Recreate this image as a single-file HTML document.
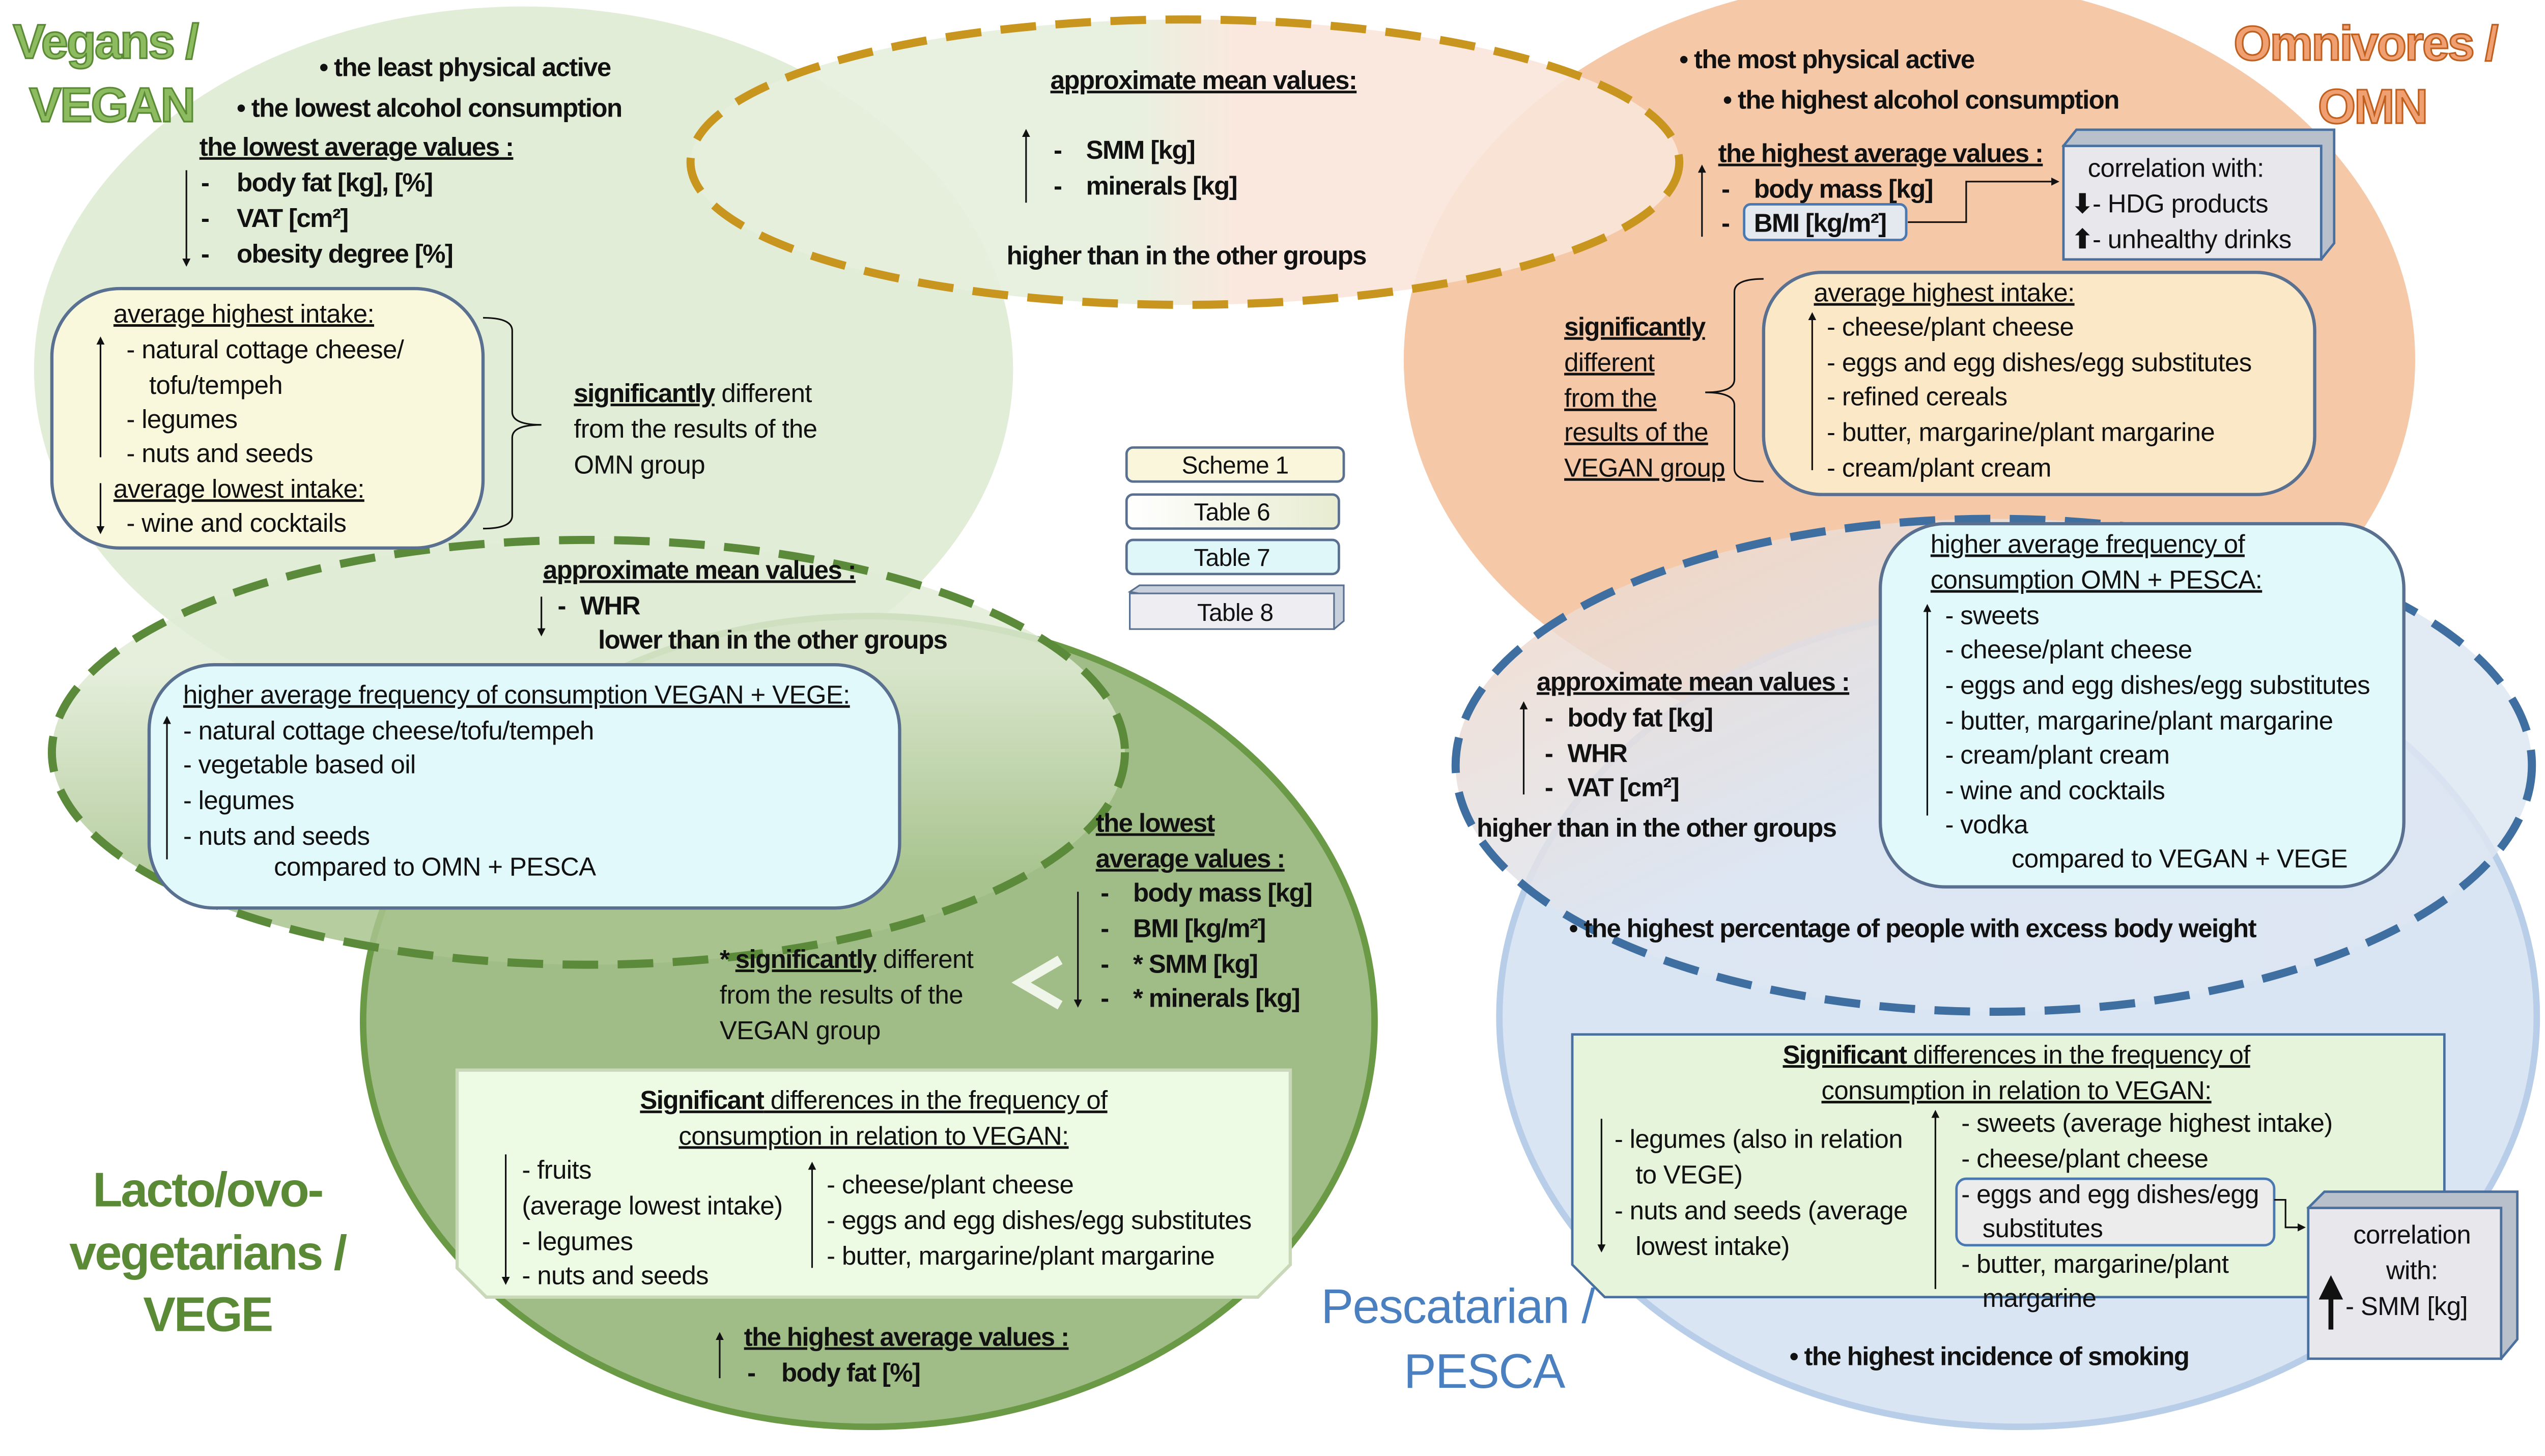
<!DOCTYPE html>
<html><head><meta charset="utf-8"><style>
html,body{margin:0;padding:0;background:#fff;width:5073px;height:2861px;overflow:hidden}
svg{display:block}
text{font-family:"Liberation Sans",sans-serif;font-size:16px;letter-spacing:-0.2px;fill:#111}
.b{font-weight:bold;letter-spacing:-0.5px}
.u{text-decoration:underline}
.t{font-weight:bold;font-size:30px;letter-spacing:-1px}
</style></head><body>
<svg width="5073" height="2861" viewBox="0 0 1593 898" preserveAspectRatio="none" xmlns="http://www.w3.org/2000/svg">
<defs>
<marker id="ah" viewBox="0 0 10 10" refX="5" refY="5" markerWidth="5" markerHeight="6" orient="auto-start-reverse"><path d="M0,0 L10,5 L0,10 z" fill="#111"/></marker>
<linearGradient id="gold" x1="0" x2="1"><stop offset="0.45" stop-color="#e6efdc"/><stop offset="0.55" stop-color="#f9e6da"/></linearGradient>
<linearGradient id="bl" x1="0" x2="1" y1="0" y2="1"><stop offset="0" stop-color="#f4d6c2"/><stop offset="0.5" stop-color="#dde6f2"/></linearGradient>
<linearGradient id="gd" x1="0" x2="0" y1="0" y2="1"><stop offset="0.3" stop-color="#e1ecd6"/><stop offset="0.8" stop-color="#a9c48f"/></linearGradient>
<linearGradient id="t6" x1="0" x2="1"><stop offset="0" stop-color="#fff"/><stop offset="1" stop-color="#e8ecd0"/></linearGradient>
</defs>
<ellipse cx="323" cy="228" rx="302" ry="224" fill="#e2edd7"/>
<ellipse cx="1178" cy="222" rx="312" ry="236" fill="#f5c8a8"/>
<ellipse cx="536" cy="630" rx="312" ry="250" fill="#a1bd87" stroke="#6a9a45" stroke-width="4"/>
<ellipse cx="1245" cy="627" rx="320" ry="253" fill="#dae5f3" stroke="#b8cde8" stroke-width="4"/>
<ellipse cx="731" cy="100" rx="305" ry="88" fill="url(#gold)" fill-opacity="0.9" stroke="#c8961e" stroke-width="5" stroke-dasharray="22,12"/>
<ellipse cx="363" cy="464" rx="331" ry="131" fill="url(#gd)" fill-opacity="0.85" stroke="#5a8a3a" stroke-width="5" stroke-dasharray="22,12"/>
<ellipse cx="1230" cy="472" rx="332" ry="152" fill="url(#bl)" fill-opacity="0.85" stroke="#3f6fa0" stroke-width="5" stroke-dasharray="22,12"/>

<text x="8" y="36" class="t" style="fill:#8dbb60;stroke:#5a8a35;stroke-width:1">Vegans /</text>
<text x="18" y="75" class="t" style="fill:#8dbb60;stroke:#5a8a35;stroke-width:1">VEGAN</text>
<text x="1378" y="37" class="t" style="fill:#f0a070;stroke:#c06020;stroke-width:1">Omnivores /</text>
<text x="1430" y="76" class="t" style="fill:#f0a070;stroke:#c06020;stroke-width:1">OMN</text>
<text x="128" y="744" class="t" text-anchor="middle" style="fill:#5a8a35">Lacto/ovo-</text>
<text x="128" y="783" class="t" text-anchor="middle" style="fill:#5a8a35">vegetarians /</text>
<text x="128" y="821" class="t" text-anchor="middle" style="fill:#5a8a35">VEGE</text>
<text x="815" y="816" style="font-size:30px;fill:#4a80c0;letter-spacing:-0.5px">Pescatarian /</text>
<text x="866" y="856" style="font-size:30px;fill:#4a80c0;letter-spacing:-0.5px">PESCA</text>

<text x="197" y="47" class="b">• the least physical active</text>
<text x="146" y="72" class="b">• the lowest alcohol consumption</text>
<text x="123" y="96" class="b u">the lowest average values :</text>
<line x1="115" y1="105" x2="115" y2="162" stroke="#111" marker-end="url(#ah)"/>
<text x="124" y="118" class="b">-</text><text x="146" y="118" class="b">body fat [kg], [%]</text>
<text x="124" y="140" class="b">-</text><text x="146" y="140" class="b">VAT [cm²]</text>
<text x="124" y="162" class="b">-</text><text x="146" y="162" class="b">obesity degree [%]</text>

<rect x="32" y="178" width="266" height="160" rx="42" fill="#f9f8dc" stroke="#5a7090" stroke-width="2"/>
<text x="70" y="199" class="u">average highest intake:</text>
<line x1="62" y1="282" x2="62" y2="210" stroke="#111" marker-end="url(#ah)"/>
<text x="78" y="221">-  natural cottage cheese/</text>
<text x="92" y="243">tofu/tempeh</text>
<text x="78" y="264">-  legumes</text>
<text x="78" y="285">-  nuts and seeds</text>
<text x="70" y="307" class="u">average lowest intake:</text>
<line x1="62" y1="298" x2="62" y2="327" stroke="#111" marker-end="url(#ah)"/>
<text x="78" y="328">-  wine and cocktails</text>
<path d="M298,196 Q316,196 316,204 L316,254 Q316,262 334,262 Q316,262 316,270 L316,318 Q316,326 298,326" fill="none" stroke="#111" stroke-width="1"/>
<text x="354" y="248"><tspan class="b u">significantly</tspan> different</text>
<text x="354" y="270">from the results of the</text>
<text x="354" y="292">OMN group</text>

<text x="648" y="55" class="b u">approximate mean values:</text>
<line x1="633" y1="125" x2="633" y2="82" stroke="#111" marker-end="url(#ah)"/>
<text x="650" y="98" class="b">-</text><text x="670" y="98" class="b">SMM [kg]</text>
<text x="650" y="120" class="b">-</text><text x="670" y="120" class="b">minerals [kg]</text>
<text x="621" y="163" class="b">higher than in the other groups</text>

<text x="1036" y="42" class="b">• the most physical active</text>
<text x="1063" y="67" class="b">• the highest alcohol consumption</text>
<text x="1060" y="100" class="b u">the highest average values :</text>
<line x1="1050" y1="146" x2="1050" y2="104" stroke="#111" marker-end="url(#ah)"/>
<text x="1062" y="122" class="b">-</text><text x="1082" y="122" class="b">body mass [kg]</text>
<text x="1062" y="143" class="b">-</text>
<rect x="1076" y="126" width="100" height="22" rx="4" fill="#e4e8ef" stroke="#4a78b0" stroke-width="1.5"/>
<text x="1082" y="143" class="b">BMI [kg/m²]</text>
<path d="M1177,137 L1213,137 L1213,112 L1268,112" fill="none" stroke="#111" marker-end="url(#ah)"/>
<path d="M1273,90 L1281,80 L1440,80 L1440,150 L1432,160 Z" fill="#b8c0cc" stroke="#4a70a0" stroke-width="1.5"/>
<rect x="1273" y="90" width="159" height="70" fill="#e8e8ec" stroke="#4a70a0" stroke-width="1.5"/>
<text x="1288" y="109">correlation with:</text>
<text x="1278" y="131"><tspan class="b">⬇</tspan>- HDG products</text>
<text x="1278" y="153"><tspan class="b">⬆</tspan>- unhealthy drinks</text>

<text x="965" y="207" class="b u">significantly</text>
<text x="965" y="229" class="u">different</text>
<text x="965" y="251" class="u">from the</text>
<text x="965" y="272" class="u">results of the</text>
<text x="965" y="294" class="u">VEGAN group</text>
<path d="M1088,172 Q1070,172 1070,180 L1070,234 Q1070,242 1052,242 Q1070,242 1070,250 L1070,289 Q1070,297 1088,297" fill="none" stroke="#111"/>
<rect x="1088" y="168" width="340" height="137" rx="36" fill="#fbe8c6" stroke="#5a7090" stroke-width="2"/>
<text x="1119" y="186" class="u">average highest intake:</text>
<line x1="1118" y1="290" x2="1118" y2="195" stroke="#111" marker-end="url(#ah)"/>
<text x="1127" y="207">-  cheese/plant cheese</text>
<text x="1127" y="229">-  eggs and egg dishes/egg substitutes</text>
<text x="1127" y="250">-  refined cereals</text>
<text x="1127" y="272">-  butter, margarine/plant margarine</text>
<text x="1127" y="294">-  cream/plant cream</text>

<rect x="695" y="276" width="134" height="21" rx="4" fill="#faf6dc" stroke="#5a7090" stroke-width="1.5"/>
<text x="762" y="292" text-anchor="middle" style="font-size:15px">Scheme 1</text>
<rect x="695" y="305" width="131" height="21" rx="4" fill="url(#t6)" stroke="#5a7090" stroke-width="1.5"/>
<text x="760" y="321" text-anchor="middle" style="font-size:15px">Table 6</text>
<rect x="695" y="333" width="131" height="21" rx="4" fill="#e0f7fa" stroke="#5a7090" stroke-width="1.5"/>
<text x="760" y="349" text-anchor="middle" style="font-size:15px">Table 7</text>
<path d="M697,365 L703,361 L829,361 L829,383 L823,388 Z" fill="#c8d0dc" stroke="#5a7090" stroke-width="1"/>
<rect x="697" y="366" width="126" height="22" fill="#eeeef2" stroke="#5a7090" stroke-width="1"/>
<text x="762" y="383" text-anchor="middle" style="font-size:15px">Table 8</text>

<text x="335" y="357" class="b u">approximate mean values :</text>
<line x1="334" y1="368" x2="334" y2="390" stroke="#111" marker-end="url(#ah)"/>
<text x="344" y="379" class="b">-</text><text x="358" y="379" class="b">WHR</text>
<text x="369" y="400" class="b">lower than in the other groups</text>
<rect x="92" y="410" width="463" height="150" rx="40" fill="#e2f9fb" stroke="#5a7090" stroke-width="2"/>
<text x="113" y="434" class="u">higher average frequency of consumption VEGAN + VEGE:</text>
<line x1="103" y1="530" x2="103" y2="444" stroke="#111" marker-end="url(#ah)"/>
<text x="113" y="456">-  natural cottage cheese/tofu/tempeh</text>
<text x="113" y="477">-  vegetable based oil</text>
<text x="113" y="499">-  legumes</text>
<text x="113" y="521">-  nuts and seeds</text>
<text x="169" y="540">compared to OMN + PESCA</text>

<text x="676" y="513" class="b u">the lowest</text>
<text x="676" y="535" class="b u">average values :</text>
<line x1="665" y1="550" x2="665" y2="619" stroke="#111" marker-end="url(#ah)"/>
<text x="679" y="556" class="b">-</text><text x="699" y="556" class="b">body mass [kg]</text>
<text x="679" y="578" class="b">-</text><text x="699" y="578" class="b">BMI [kg/m²]</text>
<text x="679" y="600" class="b">-</text><text x="699" y="600" class="b">* SMM [kg]</text>
<text x="679" y="621" class="b">-</text><text x="699" y="621" class="b">* minerals [kg]</text>
<path d="M654,592 L630,606 L654,620" fill="none" stroke="#f0f5ea" stroke-width="6"/>
<text x="444" y="597"><tspan class="b">* </tspan><tspan class="b u">significantly</tspan> different</text>
<text x="444" y="619">from the results of the</text>
<text x="444" y="641">VEGAN group</text>

<path d="M282,660 L796,660 L796,780 L776,800 L300,800 L282,782 Z" fill="#eefbe4" stroke="#c8d8b8" stroke-width="2"/>
<text x="539" y="684" text-anchor="middle"><tspan class="b u">Significant</tspan><tspan class="u"> differences in the frequency of</tspan></text>
<text x="539" y="706" text-anchor="middle" class="u">consumption in relation to VEGAN:</text>
<line x1="312" y1="712" x2="312" y2="790" stroke="#111" marker-end="url(#ah)"/>
<text x="322" y="727">-  fruits</text>
<text x="322" y="749">(average lowest intake)</text>
<text x="322" y="771">-  legumes</text>
<text x="322" y="792">-  nuts and seeds</text>
<line x1="501" y1="782" x2="501" y2="719" stroke="#111" marker-end="url(#ah)"/>
<text x="510" y="736">-  cheese/plant cheese</text>
<text x="510" y="758">-  eggs and egg dishes/egg substitutes</text>
<text x="510" y="780">-  butter, margarine/plant margarine</text>
<text x="459" y="830" class="b u">the highest average values :</text>
<line x1="444" y1="850" x2="444" y2="824" stroke="#111" marker-end="url(#ah)"/>
<text x="461" y="852" class="b">-</text><text x="482" y="852" class="b">body fat [%]</text>

<text x="948" y="426" class="b u">approximate mean values :</text>
<line x1="940" y1="490" x2="940" y2="435" stroke="#111" marker-end="url(#ah)"/>
<text x="953" y="448" class="b">-</text><text x="967" y="448" class="b">body fat [kg]</text>
<text x="953" y="470" class="b">-</text><text x="967" y="470" class="b">WHR</text>
<text x="953" y="491" class="b">-</text><text x="967" y="491" class="b">VAT [cm²]</text>
<text x="911" y="516" class="b">higher than in the other groups</text>
<rect x="1160" y="323" width="323" height="224" rx="40" fill="#e2f9fb" stroke="#5a7090" stroke-width="2"/>
<text x="1191" y="341" class="u">higher average frequency of</text>
<text x="1191" y="363" class="u">consumption OMN + PESCA:</text>
<line x1="1189" y1="503" x2="1189" y2="375" stroke="#111" marker-end="url(#ah)"/>
<text x="1200" y="385">-  sweets</text>
<text x="1200" y="406">-  cheese/plant cheese</text>
<text x="1200" y="428">-  eggs and egg dishes/egg substitutes</text>
<text x="1200" y="450">-  butter, margarine/plant margarine</text>
<text x="1200" y="471">-  cream/plant cream</text>
<text x="1200" y="493">-  wine and cocktails</text>
<text x="1200" y="514">-  vodka</text>
<text x="1241" y="535">compared to VEGAN + VEGE</text>
<text x="968" y="578" class="b">• the highest percentage of people with excess body weight</text>

<path d="M970,638 L1508,638 L1508,780 L1490,800 L990,800 L970,780 Z" fill="#e6f4dc" stroke="#4a70a0" stroke-width="1.5"/>
<text x="1244" y="656" text-anchor="middle"><tspan class="b u">Significant</tspan><tspan class="u"> differences in the frequency of</tspan></text>
<text x="1244" y="678" text-anchor="middle" class="u">consumption in relation to VEGAN:</text>
<line x1="988" y1="690" x2="988" y2="770" stroke="#111" marker-end="url(#ah)"/>
<text x="996" y="708">-  legumes (also in relation</text>
<text x="1009" y="730">to VEGE)</text>
<text x="996" y="752">-  nuts and seeds (average</text>
<text x="1009" y="774">lowest intake)</text>
<line x1="1194" y1="795" x2="1194" y2="687" stroke="#111" marker-end="url(#ah)"/>
<text x="1210" y="698">-  sweets (average highest intake)</text>
<text x="1210" y="720">-  cheese/plant cheese</text>
<rect x="1207" y="727" width="196" height="41" rx="6" fill="#ececec" stroke="#4a78b0" stroke-width="1.5"/>
<text x="1210" y="742">-  eggs and egg dishes/egg</text>
<text x="1223" y="763">substitutes</text>
<text x="1210" y="785">-  butter, margarine/plant</text>
<text x="1223" y="806">margarine</text>
<path d="M1403,740 L1410,740 L1410,757 L1420,757" fill="none" stroke="#111" marker-end="url(#ah)"/>
<path d="M1424,745 L1434,735 L1553,735 L1553,826 L1543,838 Z" fill="#b8c0cc" stroke="#4a70a0" stroke-width="1.5"/>
<rect x="1424" y="745" width="119" height="93" fill="#e8e8ec" stroke="#4a70a0" stroke-width="1.5"/>
<text x="1488" y="767" text-anchor="middle">correlation</text>
<text x="1488" y="789" text-anchor="middle">with:</text>
<line x1="1438" y1="820" x2="1438" y2="794" stroke="#111" stroke-width="3" marker-end="url(#ah)"/>
<text x="1447" y="811">- SMM [kg]</text>
<text x="1104" y="842" class="b">• the highest incidence of smoking</text>
</svg>
</body></html>
